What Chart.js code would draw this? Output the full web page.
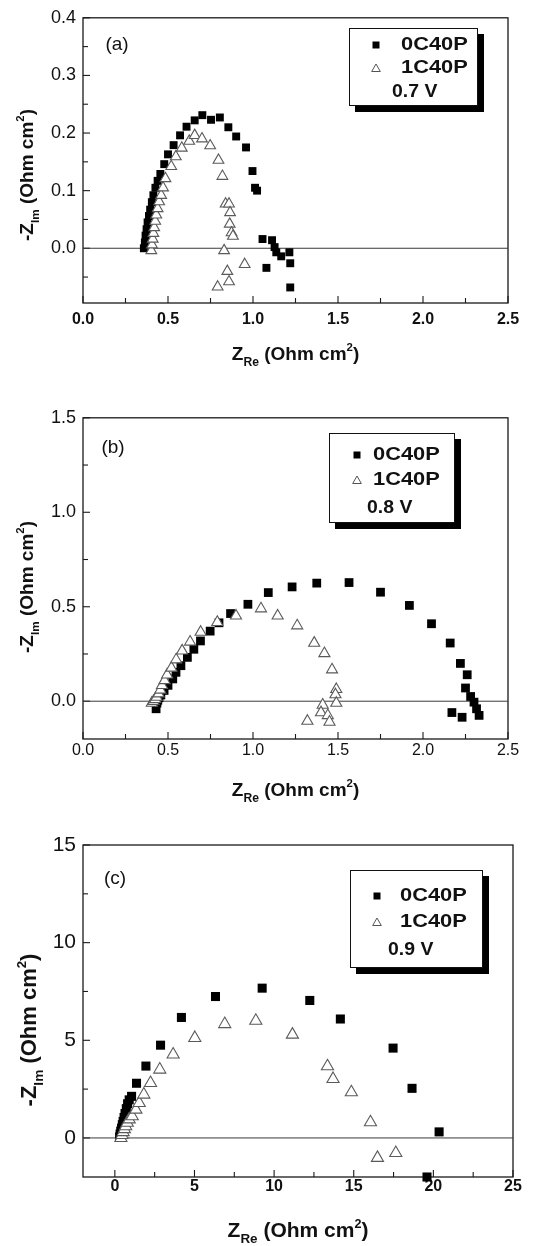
<!DOCTYPE html>
<html><head><meta charset="utf-8">
<script src="https://cdn.jsdelivr.net/npm/chart.js@4/dist/chart.umd.min.js"></script>
<style>
html,body{margin:0;padding:0;background:#fff;}
body{width:533px;height:1246px;position:relative;overflow:hidden;}
canvas{position:absolute;left:0;}
</style></head><body>
<canvas id="ca" width="533" height="400" style="top:0px"></canvas>
<canvas id="cb" width="533" height="420" style="top:400px"></canvas>
<canvas id="cc" width="533" height="426" style="top:820px"></canvas>
<script>
// ---------- data ----------
const seriesNames = ['0C40P', '1C40P'];
const voltageLabels = ['0.7 V', '0.8 V', '0.9 V'];
const panelLabels = ['(a)', '(b)', '(c)'];

const xTicksAB = [0, 0.5, 1.0, 1.5, 2.0, 2.5];
const yTicksA = [0, 0.1, 0.2, 0.3, 0.4];
const yTicksB = [0, 0.5, 1.0, 1.5];
const xTicksC = [0, 5, 10, 15, 20, 25];
const yTicksC = [0, 5, 10, 15];

// panel (a) 0.7 V
const a0Re = [0.358,0.364,0.368,0.374,0.380,0.388,0.395,0.405,0.414,0.426,0.439,0.455,0.478,0.500,0.533,0.571,0.609,0.657,0.702,0.753,0.805,0.855,0.901,0.959,0.997,1.012,1.024,1.056,1.112,1.127,1.137,1.166,1.214,1.219,1.079,1.219];
const a0Im = [0.000,0.010,0.022,0.033,0.045,0.056,0.067,0.080,0.092,0.105,0.117,0.129,0.146,0.163,0.179,0.196,0.211,0.222,0.231,0.223,0.227,0.210,0.194,0.175,0.134,0.105,0.100,0.016,0.014,0.002,-0.007,-0.014,-0.007,-0.026,-0.034,-0.068];
const a1Re = [0.402,0.406,0.410,0.414,0.419,0.425,0.431,0.439,0.448,0.460,0.471,0.485,0.519,0.546,0.581,0.625,0.657,0.700,0.748,0.797,0.820,0.839,0.859,0.865,0.863,0.874,0.882,0.830,0.849,0.951,0.792,0.859];
const a1Im = [-0.004,0.006,0.016,0.026,0.036,0.047,0.058,0.069,0.081,0.092,0.105,0.121,0.142,0.159,0.174,0.186,0.196,0.190,0.178,0.153,0.125,0.077,0.077,0.062,0.042,0.027,0.021,-0.004,-0.040,-0.028,-0.067,-0.058];

// panel (b) 0.8 V
const b0Re = [0.43,0.435,0.44,0.447,0.458,0.477,0.50,0.528,0.547,0.576,0.614,0.652,0.691,0.748,0.80,0.868,0.97,1.09,1.23,1.375,1.565,1.75,1.92,2.05,2.16,2.22,2.26,2.25,2.28,2.30,2.315,2.33,2.17,2.23];
const b0Im = [-0.04,-0.01,0.005,0.018,0.033,0.057,0.084,0.118,0.153,0.188,0.232,0.275,0.319,0.371,0.415,0.464,0.513,0.575,0.605,0.625,0.628,0.577,0.507,0.41,0.308,0.2,0.14,0.07,0.025,-0.005,-0.04,-0.075,-0.06,-0.085];
const b1Re = [0.405,0.415,0.425,0.433,0.445,0.455,0.465,0.48,0.495,0.52,0.548,0.583,0.63,0.692,0.79,0.90,1.047,1.145,1.26,1.36,1.42,1.465,1.49,1.485,1.49,1.41,1.40,1.44,1.45,1.32];
const b1Im = [-0.01,0.0,0.01,0.022,0.04,0.06,0.084,0.11,0.14,0.176,0.22,0.267,0.314,0.366,0.418,0.452,0.49,0.452,0.40,0.308,0.253,0.167,0.063,0.035,-0.01,-0.02,-0.06,-0.075,-0.11,-0.105];

// panel (c) 0.9 V
const c0Re = [0.3,0.33,0.37,0.42,0.47,0.52,0.58,0.64,0.72,0.8,0.9,1.05,1.36,1.95,2.87,4.18,6.32,9.25,12.24,14.16,17.47,18.66,20.36,19.6];
const c0Im = [0.05,0.2,0.35,0.5,0.68,0.85,1.05,1.25,1.5,1.75,1.95,2.13,2.8,3.68,4.75,6.17,7.24,7.67,7.04,6.09,4.6,2.54,0.31,-2.0];
const c1Re = [0.38,0.45,0.52,0.6,0.68,0.78,0.9,1.09,1.32,1.53,1.82,2.24,2.82,3.66,5.02,6.9,8.85,11.15,13.35,13.7,14.85,16.05,16.49,17.64];
const c1Im = [0.0,0.15,0.3,0.45,0.6,0.78,0.95,1.11,1.45,1.79,2.22,2.81,3.5,4.27,5.12,5.83,6.0,5.29,3.67,3.02,2.34,0.8,-1.02,-0.77];

// ---------- helpers ----------
const FONT = '"Liberation Sans", Arial, Helvetica, sans-serif';
Chart.defaults.font.family = FONT;
const pts = (re, im) => re.map((x, i) => ({x: x, y: im[i]}));

function stretchText(ctx, s, x, y, font, align, sx) {
  ctx.save();
  ctx.font = font;
  ctx.textBaseline = 'middle';
  ctx.textAlign = 'left';
  const w = ctx.measureText(s).width * sx;
  const x0 = align === 'center' ? x - w / 2 : (align === 'right' ? x - w : x);
  ctx.translate(x0, y);
  ctx.scale(sx, 1);
  ctx.fillText(s, 0, 0);
  ctx.restore();
}

function drawRuns(ctx, runs, size, cx, baseline) {
  ctx.save();
  ctx.textBaseline = 'alphabetic';
  ctx.textAlign = 'left';
  let total = 0;
  runs.forEach(r => { ctx.font = 'bold ' + (size * r[1]) + 'px ' + FONT; total += ctx.measureText(r[0]).width; });
  let x = cx - total / 2;
  runs.forEach(r => {
    ctx.font = 'bold ' + (size * r[1]) + 'px ' + FONT;
    ctx.fillText(r[0], x, baseline + r[2] * size);
    x += ctx.measureText(r[0]).width;
  });
  ctx.restore();
}

function drawTri(ctx, x, y, r) {
  ctx.beginPath();
  ctx.moveTo(x, y - r);
  ctx.lineTo(x + r * 0.866, y + r / 2);
  ctx.lineTo(x - r * 0.866, y + r / 2);
  ctx.closePath();
  ctx.fillStyle = '#fff';
  ctx.fill();
  ctx.stroke();
}

const deco = {
  id: 'deco',
  beforeDatasetsDraw(chart, args, o) {
    const ctx = chart.ctx, a = chart.chartArea;
    ctx.save();
    ctx.strokeStyle = '#1a1a1a';
    ctx.lineWidth = 1.1;
    const tk = (scale, majors, horiz) => {
      const half = (majors[1] - majors[0]) / 2;
      const k0 = Math.ceil(scale.min / half - 1e-6), k1 = Math.floor(scale.max / half + 1e-6);
      for (let k = k0; k <= k1; k++) {
        const v = k * half;
        const len = (k % 2 === 0) ? 7 : 5;
        const p = scale.getPixelForValue(v);
        ctx.beginPath();
        if (horiz) { ctx.moveTo(p, a.bottom); ctx.lineTo(p, a.bottom - len); }
        else { ctx.moveTo(a.left, p); ctx.lineTo(a.left + len, p); }
        ctx.stroke();
      }
    };
    tk(chart.scales.x, o.xMajor, true);
    tk(chart.scales.y, o.yMajor, false);
    ctx.lineWidth = 1.3;
    ctx.strokeRect(a.left, a.top, a.right - a.left, a.bottom - a.top);
    ctx.restore();
  },
  afterDraw(chart, args, o) {
    const ctx = chart.ctx, a = chart.chartArea;
    ctx.save();
    ctx.fillStyle = '#111';
    ctx.font = o.labelSize + 'px ' + FONT;
    ctx.textAlign = 'center'; ctx.textBaseline = 'middle';
    ctx.fillText(o.label, o.labelX, o.labelY);
    const cx = (a.left + a.right) / 2;
    drawRuns(ctx, [['Z', 1, 0], ['Re', 0.64, 0.3], [' (Ohm cm', 1, 0], ['2', 0.6, -0.45], [')', 1, 0]], o.xtSize, cx, o.xtBase);
    ctx.save();
    ctx.translate(o.ytX, o.ytY);
    ctx.rotate(-Math.PI / 2);
    drawRuns(ctx, [['-Z', 1, 0], ['Im', 0.62, 0.3], [' (Ohm cm', 1, 0], ['2', 0.6, -0.45], [')', 1, 0]], o.ytSize, 0, o.ytSize * 0.36);
    ctx.restore();
    const L = o.legend;
    ctx.fillStyle = '#000';
    ctx.fillRect(L.x + 6, L.y + 6, L.w + 1, L.h + 1);
    ctx.fillStyle = '#fff';
    ctx.fillRect(L.x, L.y, L.w, L.h);
    ctx.strokeStyle = '#111'; ctx.lineWidth = 1;
    ctx.strokeRect(L.x + 0.5, L.y + 0.5, L.w, L.h);
    ctx.fillStyle = '#000';
    ctx.fillRect(L.x + L.mx - 3.5, L.y + L.r1 - 3.5, 7, 7);
    ctx.strokeStyle = '#555'; ctx.lineWidth = 1;
    drawTri(ctx, L.x + L.mx, L.y + L.r2 + 1, 5);
    ctx.fillStyle = '#111';
    const f = 'bold ' + L.fs + 'px ' + FONT;
    stretchText(ctx, seriesNames[0], L.x + L.tx, L.y + L.r1, f, 'left', L.sx);
    stretchText(ctx, seriesNames[1], L.x + L.tx, L.y + L.r2, f, 'left', L.sx);
    stretchText(ctx, o.volt, L.x + L.vx, L.y + L.r3, f, 'left', 1.05);
    ctx.restore();
  }
};

function makePanel(id, cfg) {
  const canvas = document.getElementById(id);
  return new Chart(canvas, {
    type: 'scatter',
    data: {
      datasets: [
        { type: 'line', label: 'zero', data: [{x: cfg.xMin, y: 0}, {x: cfg.xMax, y: 0}], showLine: true,
          borderColor: '#3a3a3a', borderWidth: 1, pointRadius: 0, order: 3 },
        { label: seriesNames[0], data: cfg.s0, pointStyle: 'rect', pointRadius: cfg.sqR, backgroundColor: '#000',
          borderWidth: 0, clip: false, order: 2 },
        { label: seriesNames[1], data: cfg.s1, pointStyle: 'triangle', pointRadius: cfg.triR, backgroundColor: '#fff',
          borderColor: '#5a5a5a', borderWidth: 1.1, clip: false, order: 1 }
      ]
    },
    options: {
      responsive: false, animation: false, devicePixelRatio: 1,
      layout: { padding: { left: 0, right: cfg.padR, top: cfg.padT, bottom: 0 } },
      plugins: { legend: { display: false }, tooltip: { enabled: false }, deco: cfg.deco },
      scales: {
        x: {
          type: 'linear', min: cfg.xMin, max: cfg.xMax,
          grid: { display: false, drawTicks: false }, border: { display: false },
          afterBuildTicks: s => { s.ticks = cfg.xTicks.map(v => ({value: v})); },
          afterFit: s => { s.height = cfg.xH; },
          ticks: { padding: cfg.xPad, color: '#111', font: { size: 16, weight: cfg.xBold ? 'bold' : 'normal' },
                   callback: v => cfg.dec ? v.toFixed(1) : String(v) }
        },
        y: {
          type: 'linear', min: cfg.yMin, max: cfg.yMax,
          grid: { display: false, drawTicks: false }, border: { display: false },
          afterBuildTicks: s => { s.ticks = cfg.yTicks.map(v => ({value: v})); },
          afterFit: s => { s.width = 83; },
          ticks: { padding: 7, color: '#111', font: { size: cfg.ySize, weight: 'normal' },
                   callback: v => cfg.dec ? v.toFixed(1) : String(v) }
        }
      }
    },
    plugins: [deco]
  });
}

makePanel('ca', {
  s0: pts(a0Re, a0Im), s1: pts(a1Re, a1Im), xMin: 0, xMax: 2.5, yMin: -0.095, yMax: 0.4,
  xTicks: xTicksAB, yTicks: yTicksA, dec: true, xBold: true, ySize: 18, sqR: 5.6, triR: 6.2,
  padR: 25, padT: 15, xH: 97, xPad: 7,
  deco: { xMajor: xTicksAB, yMajor: yTicksA, label: panelLabels[0], labelX: 117, labelY: 45, labelSize: 19,
    xtSize: 19, xtBase: 360, ytSize: 19, ytX: 26, ytY: 175, volt: voltageLabels[0],
    legend: { x: 349, y: 28, w: 128, h: 77, mx: 27, tx: 52, vx: 43, r1: 17, r2: 40, r3: 64, fs: 18.5, sx: 1.18 } }
});
makePanel('cb', {
  s0: pts(b0Re, b0Im), s1: pts(b1Re, b1Im), xMin: 0, xMax: 2.5, yMin: -0.2, yMax: 1.5,
  xTicks: xTicksAB, yTicks: yTicksB, dec: true, xBold: false, ySize: 18, sqR: 6.2, triR: 6.4,
  padR: 25, padT: 15, xH: 81, xPad: 2,
  deco: { xMajor: xTicksAB, yMajor: yTicksB, label: panelLabels[1], labelX: 113, labelY: 48, labelSize: 19,
    xtSize: 19, xtBase: 396, ytSize: 19, ytX: 26, ytY: 187, volt: voltageLabels[1],
    legend: { x: 329, y: 33, w: 125, h: 89, mx: 28, tx: 44, vx: 38, r1: 22, r2: 47, r3: 75, fs: 18.5, sx: 1.18 } }
});
makePanel('cc', {
  s0: pts(c0Re, c0Im), s1: pts(c1Re, c1Im), xMin: -2, xMax: 25, yMin: -2, yMax: 15,
  xTicks: xTicksC, yTicks: yTicksC, dec: false, xBold: true, ySize: 21, sqR: 6.4, triR: 7,
  padR: 20, padT: 25, xH: 69, xPad: 0,
  deco: { xMajor: xTicksC, yMajor: yTicksC, label: panelLabels[2], labelX: 115, labelY: 59, labelSize: 19,
    xtSize: 21, xtBase: 417, ytSize: 22, ytX: 28, ytY: 210, volt: voltageLabels[2],
    legend: { x: 350, y: 50, w: 132, h: 97, mx: 27, tx: 50, vx: 38, r1: 26, r2: 52, r3: 80, fs: 18.5, sx: 1.18 } }
});
</script>
</body></html>
